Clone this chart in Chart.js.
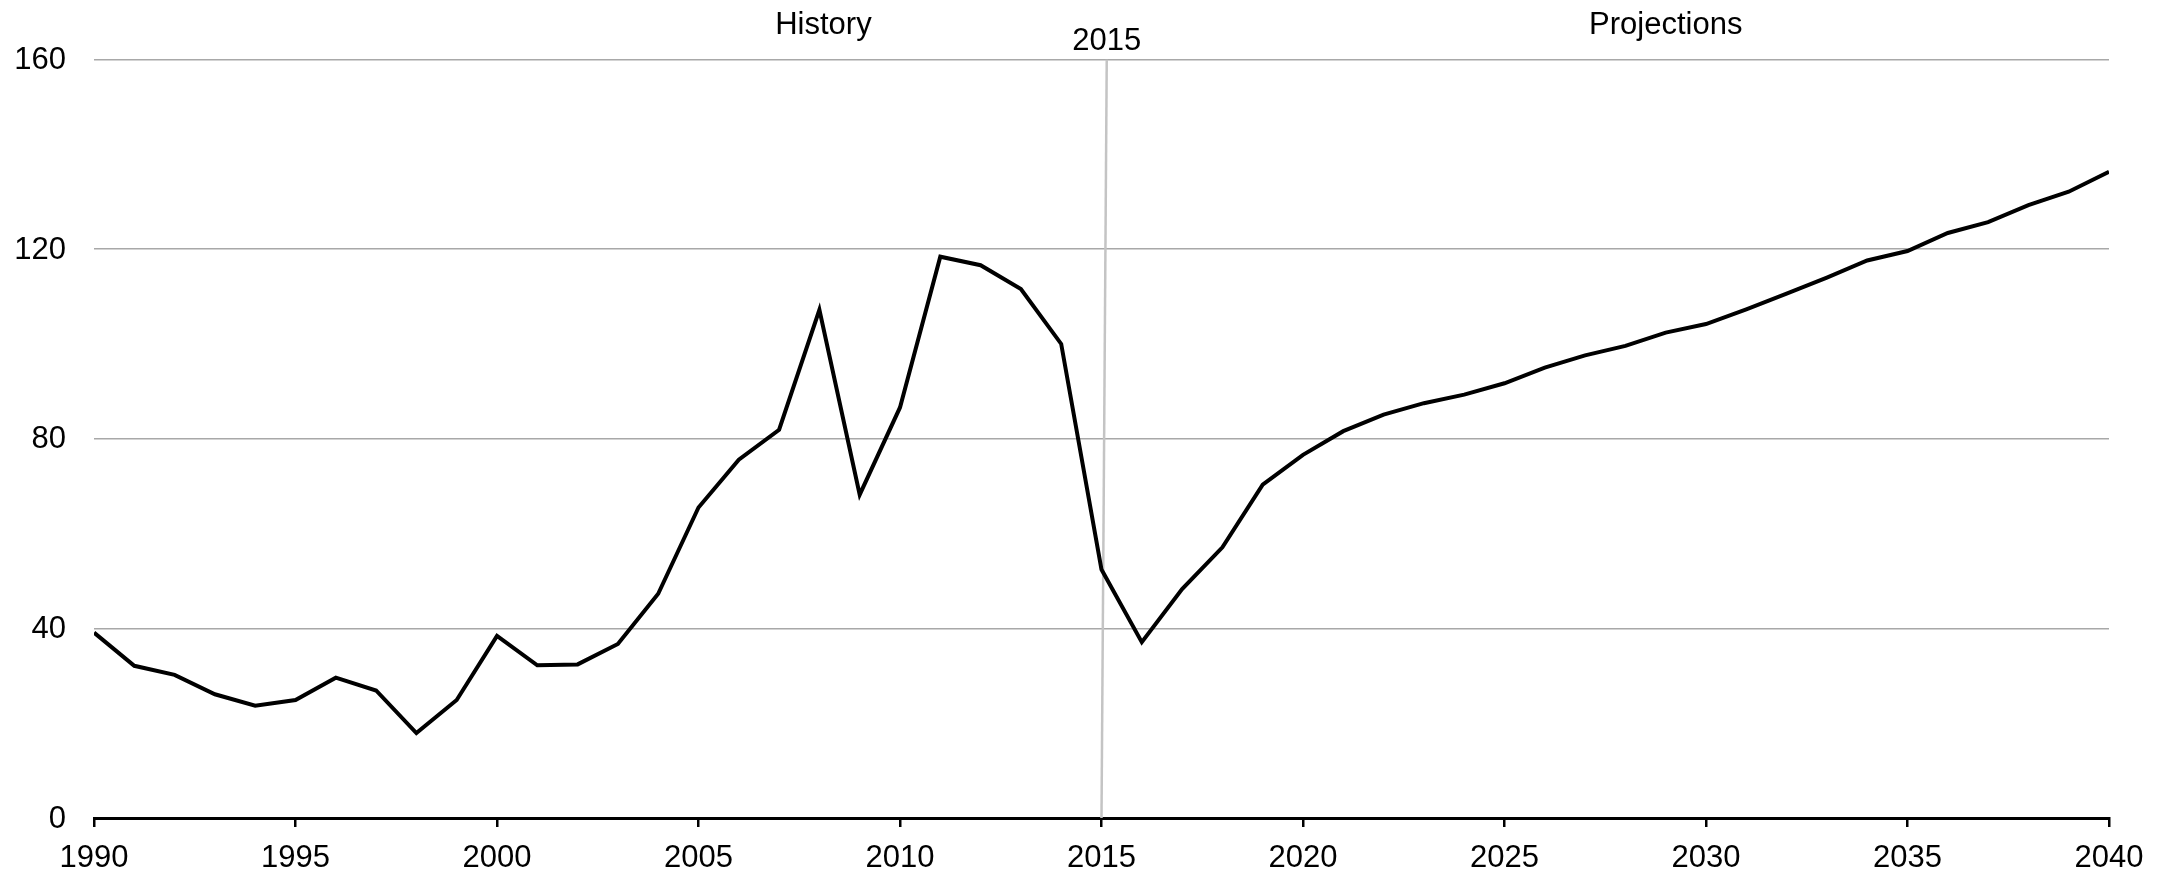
<!DOCTYPE html>
<html>
<head>
<meta charset="utf-8">
<title>History and projections, 1990–2040</title>
<script src="https://cdn.jsdelivr.net/npm/chart.js@4/dist/chart.umd.min.js"></script>
<style>
  html, body { margin: 0; padding: 0; background: #ffffff; }
  #wrap { width: 2170px; height: 874px; position: relative; }
</style>
</head>
<body>
<div id="wrap"><canvas id="chart" width="2170" height="874"></canvas></div>
<script>
// Years on the horizontal axis
const years = [
  1990, 1991, 1992, 1993, 1994, 1995, 1996, 1997, 1998, 1999,
  2000, 2001, 2002, 2003, 2004, 2005, 2006, 2007, 2008, 2009,
  2010, 2011, 2012, 2013, 2014, 2015, 2016, 2017, 2018, 2019,
  2020, 2021, 2022, 2023, 2024, 2025, 2026, 2027, 2028, 2029,
  2030, 2031, 2032, 2033, 2034, 2035, 2036, 2037, 2038, 2039, 2040
];

// Series values, one per year (history through 2015, projections after)
const values = [
  39.1, 32.1, 30.2, 26.1, 23.7, 24.9, 29.6, 26.9, 17.9, 24.9,
  38.4, 32.2, 32.4, 36.7, 47.3, 65.5, 75.6, 81.9, 107.2, 68.2,
  86.6, 118.4, 116.6, 111.6, 100.0, 52.4, 37.1, 48.3, 57.1, 70.3,
  76.6, 81.6, 85.1, 87.5, 89.3, 91.7, 95.0, 97.6, 99.6, 102.4,
  104.2, 107.3, 110.6, 114.0, 117.6, 119.6, 123.4, 125.7, 129.3, 132.1,
  136.3
];

// Tick labels
const xTicks = [1990, 1995, 2000, 2005, 2010, 2015, 2020, 2025, 2030, 2035, 2040];
const yTicks = [0, 40, 80, 120, 160];

// Divider between history and projections (top end, bottom end)
const dividerYears = [2015.13, 2015];
const dividerValues = [160, 0];

// Header labels above the plot: text and the year they sit over
const headerTexts = ['History', '2015', 'Projections'];
const headerYears = [2008.1, 2015.13, 2029.0];

const FONT = '"Liberation Sans", Arial, sans-serif';
const FONT_SIZE = 31;

// Draws the header labels and the value-axis labels (right-aligned beside the grid)
const textPlugin = {
  id: 'chartTexts',
  afterDraw(chart) {
    const { ctx, chartArea, scales } = chart;
    ctx.save();
    ctx.fillStyle = '#000000';
    ctx.font = FONT_SIZE + 'px ' + FONT;

    ctx.textAlign = 'center';
    ctx.textBaseline = 'alphabetic';
    headerTexts.forEach((t, i) => {
      const x = scales.x.getPixelForValue(headerYears[i]);
      const y = t === '2015' ? chartArea.top - 9.5 : chartArea.top - 25.5;
      ctx.fillText(t, x, y);
    });

    ctx.textAlign = 'right';
    ctx.textBaseline = 'middle';
    yTicks.forEach((v) => {
      const y = scales.y.getPixelForValue(v);
      ctx.fillText(String(v), chartArea.left - 28, y + 1);
    });
    ctx.restore();
  }
};

new Chart(document.getElementById('chart'), {
  type: 'line',
  data: {
    datasets: [
      {
        data: dividerYears.map((x, i) => ({ x, y: dividerValues[i] })),
        borderColor: '#c4c4c4',
        borderWidth: 2.5,
        pointRadius: 0,
        tension: 0,
        order: 2
      },
      {
        data: years.map((x, i) => ({ x, y: values[i] })),
        borderColor: '#000000',
        borderWidth: 4,
        pointRadius: 0,
        tension: 0,
        borderJoinStyle: 'miter',
        order: 1
      }
    ]
  },
  options: {
    responsive: false,
    animation: false,
    devicePixelRatio: 1,
    layout: { padding: { left: 0, right: 61, top: 59.5, bottom: 0 } },
    plugins: {
      legend: { display: false },
      tooltip: { enabled: false }
    },
    scales: {
      x: {
        type: 'linear',
        min: 1990,
        max: 2040,
        afterBuildTicks(scale) { scale.ticks = xTicks.map(v => ({ value: v })); },
        afterFit(scale) { scale.height = 874 - 818; },
        ticks: {
          autoSkip: false,
          maxRotation: 0,
          padding: 13,
          color: '#000000',
          font: { family: FONT, size: FONT_SIZE },
          callback: (v) => String(v)
        },
        grid: {
          drawOnChartArea: false,
          drawTicks: true,
          tickLength: 9,
          color: '#000000',
          lineWidth: 2.5
        },
        border: { display: true, color: '#000000', width: 3 }
      },
      y: {
        min: 0,
        max: 160,
        afterBuildTicks(scale) { scale.ticks = yTicks.map(v => ({ value: v })); },
        afterFit(scale) { scale.width = 94; },
        ticks: { display: false },
        grid: {
          drawTicks: false,
          color: (c) => (c.tick && c.tick.value === 0 ? 'rgba(0,0,0,0)' : '#a8a8a8'),
          lineWidth: 1.5
        },
        border: { display: false }
      }
    }
  },
  plugins: [textPlugin]
});
</script>
</body>
</html>
